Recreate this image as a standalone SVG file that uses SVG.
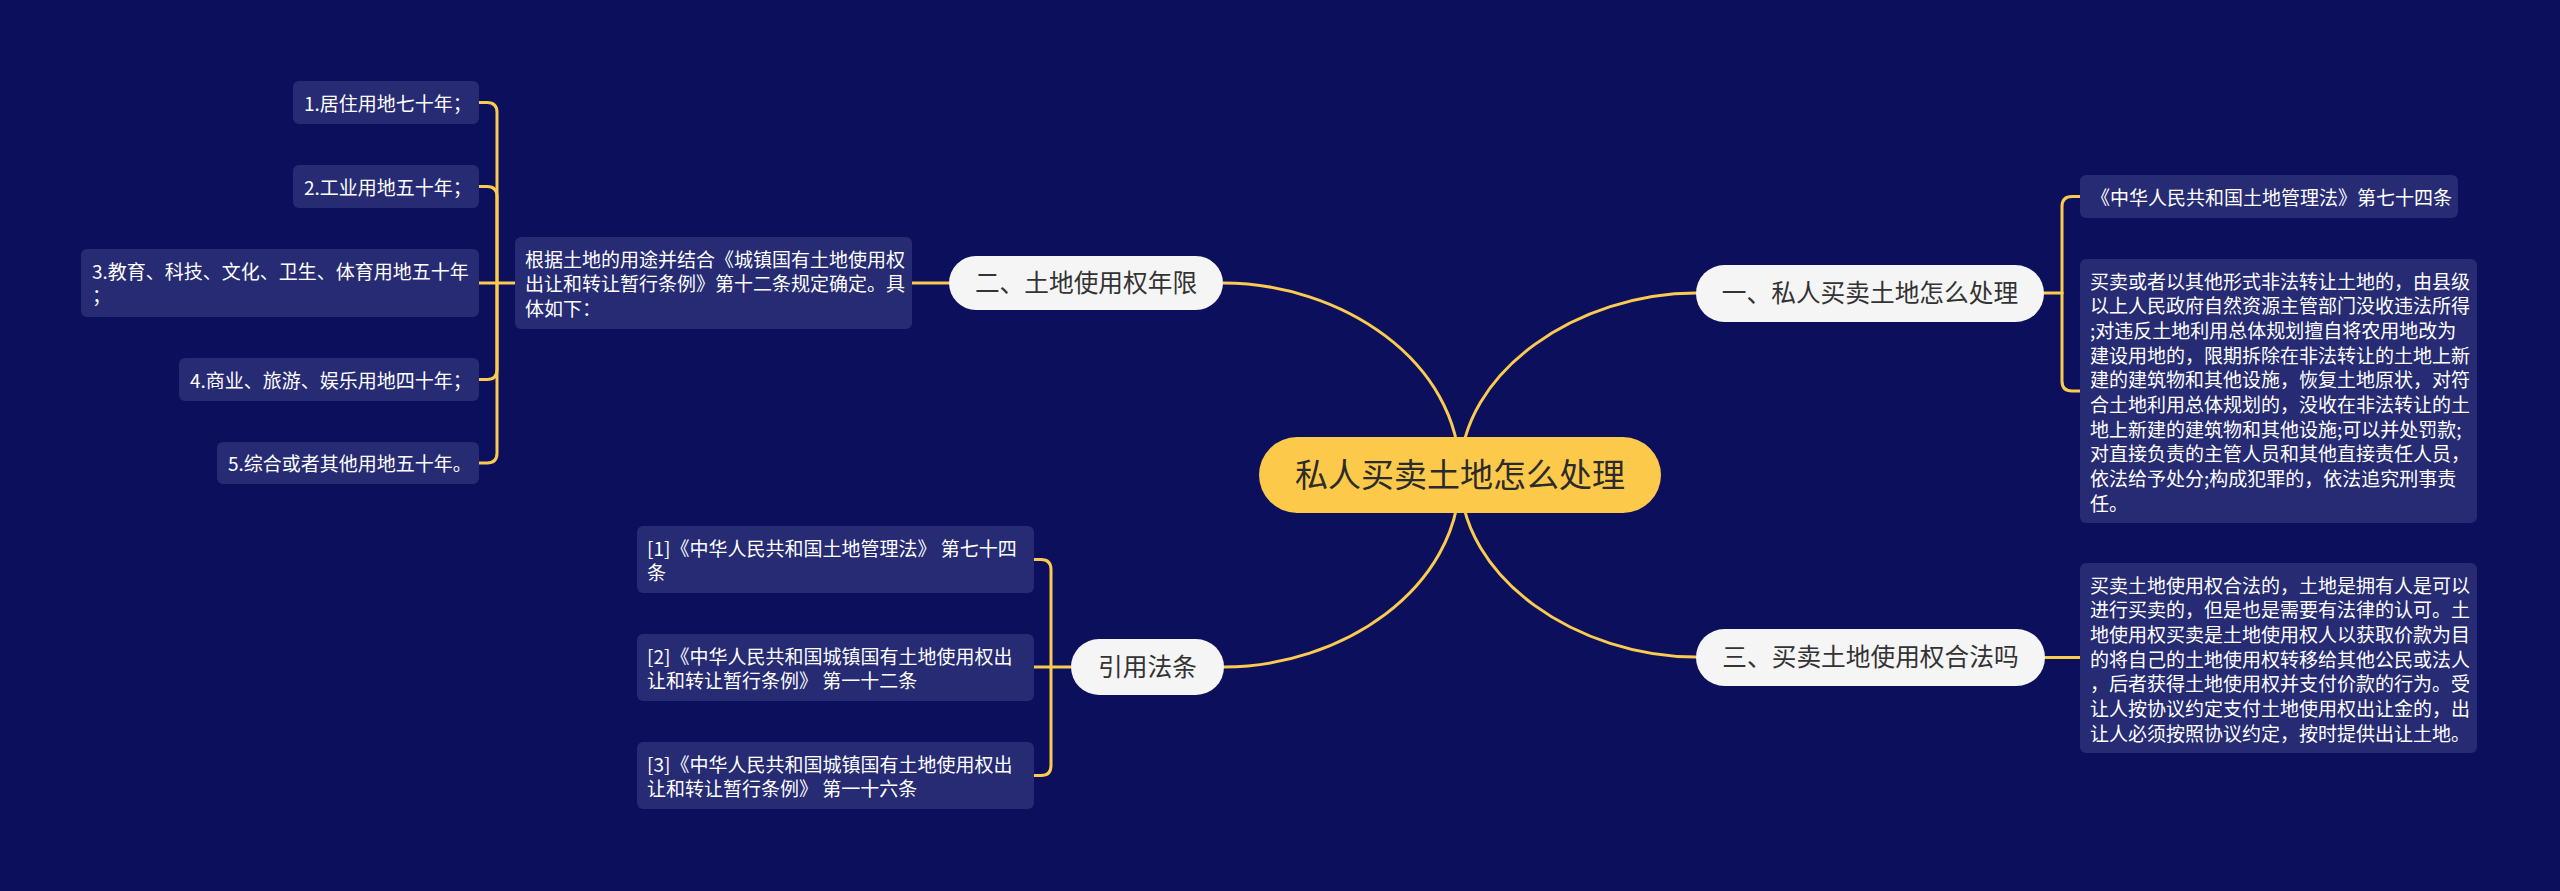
<svg xmlns="http://www.w3.org/2000/svg" width="2560" height="891" viewBox="0 0 2560 891">
<style>
.bg{fill:#0b0f5c}
.ln{fill:none;stroke:#fbcb50;stroke-width:3;stroke-linecap:round}
.box{fill:#262b73}
.pill{fill:#f5f5f5}
.root{fill:#fdc94a}
.t{font-family:"Noto Sans CJK SC","Noto Sans",sans-serif;font-size:19px;fill:#ffffff}
.t1{font-family:"Noto Sans CJK SC","Noto Sans",sans-serif;font-size:24.7px;fill:#333333;text-anchor:middle}
.t0{font-family:"Noto Sans CJK SC","Noto Sans",sans-serif;font-size:33px;fill:#2b2b2b;text-anchor:middle}
</style>
<rect class="bg" x="0" y="0" width="2560" height="891"/>
<g id="connectors">
<path class="ln" d="M1460 475 C1460 360 1340 283 1223 283"/>
<path class="ln" d="M1460 475 C1460 370 1580 293 1696 293"/>
<path class="ln" d="M1460 475 C1460 590 1340 667 1224 667"/>
<path class="ln" d="M1460 475 C1460 580 1580 657 1696 657"/>
<path class="ln" d="M912 283 H949"/>
<path class="ln" d="M515 283 H479"/>
<path class="ln" d="M479 102.5 H487 Q497 102.5 497 112.5 V283"/>
<path class="ln" d="M479 186.5 H487 Q497 186.5 497 196.5 V283"/>
<path class="ln" d="M479 379.5 H487 Q497 379.5 497 369.5 V283"/>
<path class="ln" d="M479 463 H487 Q497 463 497 453 V283"/>
<path class="ln" d="M2044 293 H2062"/>
<path class="ln" d="M2080 196.5 H2072 Q2062 196.5 2062 206.5 V293"/>
<path class="ln" d="M2080 391 H2072 Q2062 391 2062 381 V293"/>
<path class="ln" d="M2045 657.5 H2080"/>
<path class="ln" d="M1071 667 H1034"/>
<path class="ln" d="M1034 559.5 H1041 Q1051 559.5 1051 569.5 V667"/>
<path class="ln" d="M1034 775.5 H1041 Q1051 775.5 1051 765.5 V667"/>
</g>
<g id="root">
<rect class="root" x="1259" y="437" width="402" height="76" rx="38"/>
<text class="t0" x="1460" y="487">私人买卖土地怎么处理</text>
</g>
<g id="n2">
<rect class="pill" x="949" y="256" width="274" height="54" rx="27"/>
<text class="t1" x="1086" y="292">二、土地使用权年限</text>
</g>
<g id="n1">
<rect class="pill" x="1696" y="265" width="348" height="57" rx="28.5"/>
<text class="t1" x="1870" y="302">一、私人买卖土地怎么处理</text>
</g>
<g id="n3">
<rect class="pill" x="1696" y="629" width="349" height="57" rx="28.5"/>
<text class="t1" x="1870.5" y="666">三、买卖土地使用权合法吗</text>
</g>
<g id="nref">
<rect class="pill" x="1071" y="639" width="153" height="56" rx="28"/>
<text class="t1" x="1147.5" y="676">引用法条</text>
</g>
<g id="n2-desc">
<rect class="box" x="515" y="237" width="397" height="92" rx="6"/>
<text class="t" x="525" y="266.5">根据土地的用途并结合《城镇国有土地使用权</text>
<text class="t" x="525" y="291.2">出让和转让暂行条例》第十二条规定确定。具</text>
<text class="t" x="525" y="315.9">体如下：</text>
</g>
<g id="y1">
<rect class="box" x="293" y="81" width="186" height="43" rx="6"/>
<text class="t" x="304" y="110.5">1.居住用地七十年；</text>
</g>
<g id="y2">
<rect class="box" x="293" y="165" width="186" height="43" rx="6"/>
<text class="t" x="304" y="194.5">2.工业用地五十年；</text>
</g>
<g id="y3">
<rect class="box" x="81" y="249" width="398" height="68" rx="6"/>
<text class="t" x="92" y="278.5">3.教育、科技、文化、卫生、体育用地五十年</text>
<text class="t" x="92" y="303.2">；</text>
</g>
<g id="y4">
<rect class="box" x="179" y="358" width="300" height="43" rx="6"/>
<text class="t" x="190" y="387.5">4.商业、旅游、娱乐用地四十年；</text>
</g>
<g id="y5">
<rect class="box" x="217" y="442" width="262" height="42" rx="6"/>
<text class="t" x="228" y="471">5.综合或者其他用地五十年。</text>
</g>
<g id="n1-law">
<rect class="box" x="2080" y="175" width="378" height="43" rx="6"/>
<text class="t" x="2091" y="204.5">《中华人民共和国土地管理法》第七十四条</text>
</g>
<g id="n1-desc">
<rect class="box" x="2080" y="259" width="397" height="264" rx="6"/>
<text class="t" x="2090" y="288.5">买卖或者以其他形式非法转让土地的，由县级</text>
<text class="t" x="2090" y="313.2">以上人民政府自然资源主管部门没收违法所得</text>
<text class="t" x="2090" y="337.9">;对违反土地利用总体规划擅自将农用地改为</text>
<text class="t" x="2090" y="362.6">建设用地的，限期拆除在非法转让的土地上新</text>
<text class="t" x="2090" y="387.3">建的建筑物和其他设施，恢复土地原状，对符</text>
<text class="t" x="2090" y="412">合土地利用总体规划的，没收在非法转让的土</text>
<text class="t" x="2090" y="436.7">地上新建的建筑物和其他设施;可以并处罚款;</text>
<text class="t" x="2090" y="461.4">对直接负责的主管人员和其他直接责任人员，</text>
<text class="t" x="2090" y="486.1">依法给予处分;构成犯罪的，依法追究刑事责</text>
<text class="t" x="2090" y="510.8">任。</text>
</g>
<g id="n3-desc">
<rect class="box" x="2080" y="563" width="397" height="190" rx="6"/>
<text class="t" x="2090" y="592.5">买卖土地使用权合法的，土地是拥有人是可以</text>
<text class="t" x="2090" y="617.2">进行买卖的，但是也是需要有法律的认可。土</text>
<text class="t" x="2090" y="641.9">地使用权买卖是土地使用权人以获取价款为目</text>
<text class="t" x="2090" y="666.6">的将自己的土地使用权转移给其他公民或法人</text>
<text class="t" x="2090" y="691.3">，后者获得土地使用权并支付价款的行为。受</text>
<text class="t" x="2090" y="716">让人按协议约定支付土地使用权出让金的，出</text>
<text class="t" x="2090" y="740.7">让人必须按照协议约定，按时提供出让土地。</text>
</g>
<g id="ref1">
<rect class="box" x="637" y="526" width="397" height="67" rx="6"/>
<text class="t" x="647" y="555.5">[1]《中华人民共和国土地管理法》 第七十四</text>
<text class="t" x="647" y="580.2">条</text>
</g>
<g id="ref2">
<rect class="box" x="637" y="634" width="397" height="67" rx="6"/>
<text class="t" x="647" y="663.5">[2]《中华人民共和国城镇国有土地使用权出</text>
<text class="t" x="647" y="688.2">让和转让暂行条例》 第一十二条</text>
</g>
<g id="ref3">
<rect class="box" x="637" y="742" width="397" height="67" rx="6"/>
<text class="t" x="647" y="771.5">[3]《中华人民共和国城镇国有土地使用权出</text>
<text class="t" x="647" y="796.2">让和转让暂行条例》 第一十六条</text>
</g>
</svg>
